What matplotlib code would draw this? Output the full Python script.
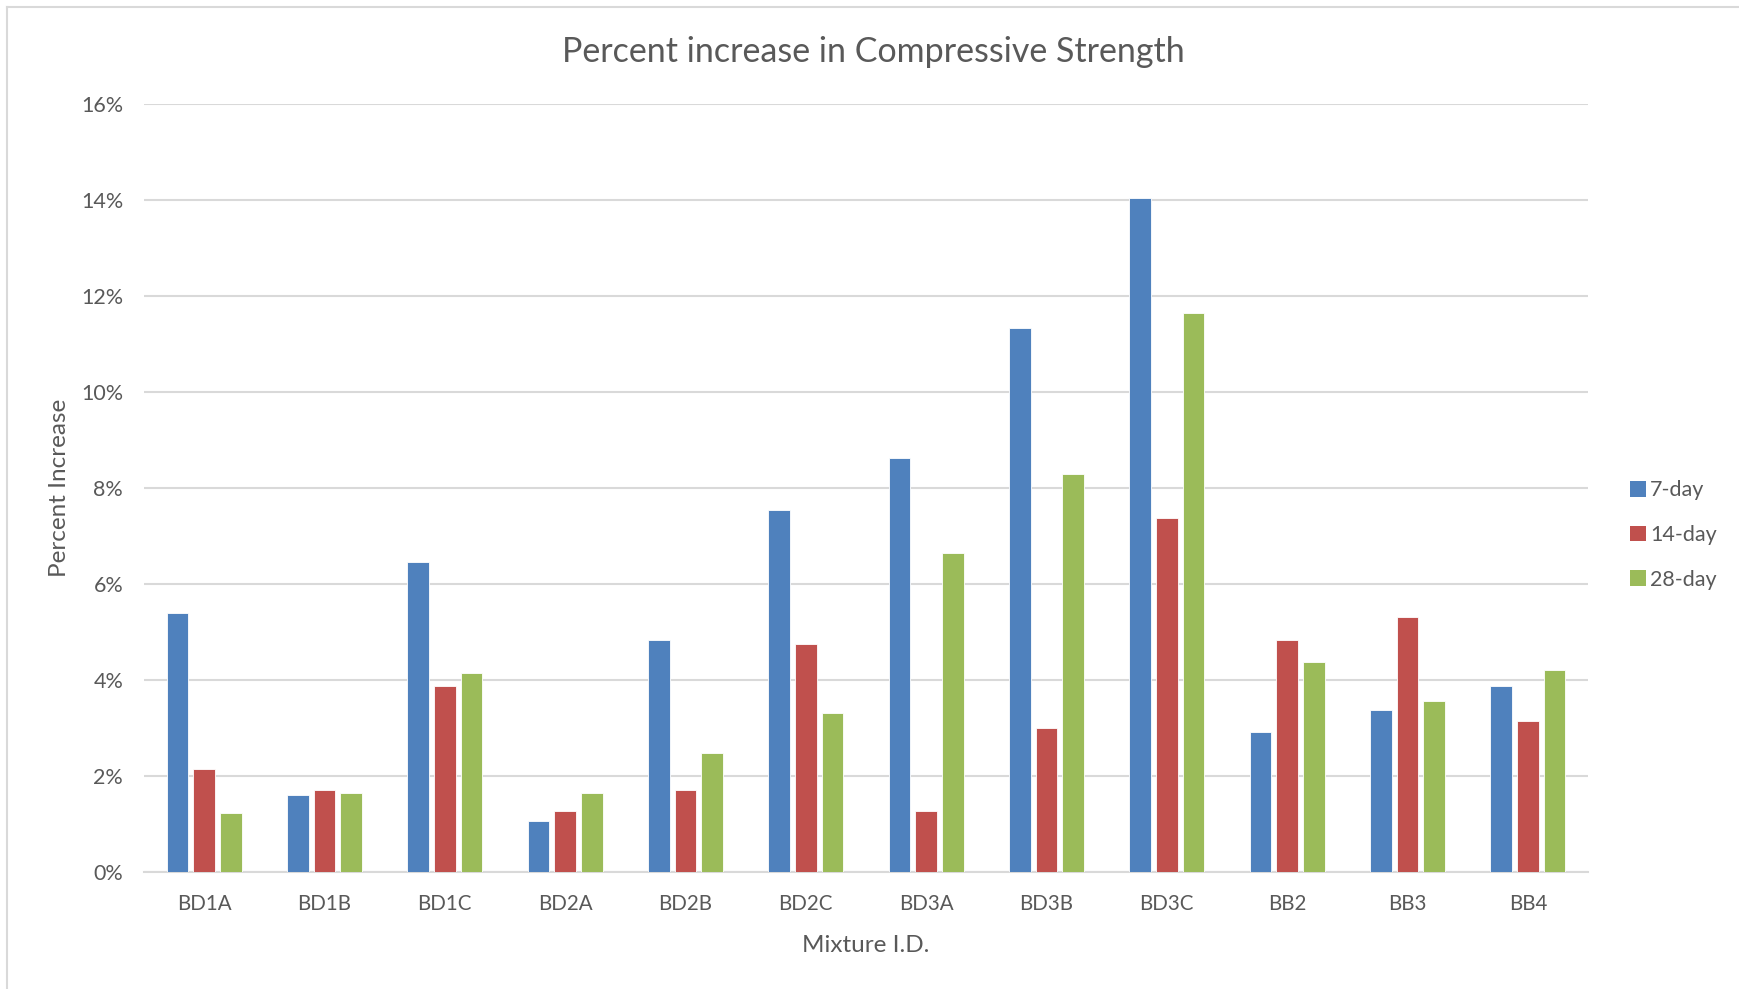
import numpy as np
import matplotlib.pyplot as plt
from matplotlib.patches import Patch
from matplotlib.lines import Line2D
from matplotlib.ticker import FuncFormatter

# percent increase by mixture and curing age
mixtures = ['BD1A', 'BD1B', 'BD1C', 'BD2A', 'BD2B', 'BD2C',
            'BD3A', 'BD3B', 'BD3C', 'BB2', 'BB3', 'BB4']
day7 = [5.39, 1.60, 6.45, 1.06, 4.83, 7.54, 8.62, 11.33, 14.05, 2.91, 3.38, 3.88]
day14 = [2.15, 1.71, 3.88, 1.27, 1.71, 4.76, 1.27, 3.01, 7.38, 4.83, 5.32, 3.14]
day28 = [1.23, 1.64, 4.14, 1.64, 2.47, 3.31, 6.64, 8.30, 11.64, 4.37, 3.56, 4.21]
series_names = ['7-day', '14-day', '28-day']
colors = ['#4F81BD', '#C0504D', '#9BBB59']

txt = '#595959'
plt.rcParams['font.family'] = ['Lato', 'DejaVu Sans']

fig = plt.figure(figsize=(17.39, 9.89), dpi=100)
ax = fig.add_axes([0.0828, 0.1183, 0.8304, 0.7765])

x = np.arange(len(mixtures))
step = 0.221
width = 0.18
for i, (vals, c) in enumerate(zip([day7, day14, day28], colors)):
    ax.bar(x + (i - 1) * step, vals, width, color=c, edgecolor='white',
           linewidth=0.6, zorder=3)

ax.set_xlim(-0.5, len(mixtures) - 0.5)
ax.set_ylim(0, 16)
ax.set_yticks(np.arange(0, 17, 2))
ax.yaxis.set_major_formatter(FuncFormatter(lambda v, _: '%d%%' % v))
ax.set_xticks(x)
ax.set_xticklabels(mixtures)
ax.grid(True, axis='y', color='#D9D9D9', linewidth=1.5, zorder=0)
for s in ['top', 'right', 'left']:
    ax.spines[s].set_visible(False)
ax.spines['bottom'].set_color('#D9D9D9')
ax.spines['bottom'].set_linewidth(1.5)
ax.tick_params(length=0, colors=txt)
ax.tick_params(axis='x', pad=16, labelsize=14.8)
ax.tick_params(axis='y', pad=15, labelsize=15.5)

ax.set_title('Percent increase in Compressive Strength', fontsize=24.5,
             color=txt, pad=30, x=0.505)
ax.set_xlabel('Mixture I.D.', fontsize=17.5, color=txt, labelpad=15)
ax.set_ylabel('Percent Increase', fontsize=17.5, color=txt, labelpad=8)

handles = [Patch(facecolor=c, edgecolor='none') for c in colors]
leg = fig.legend(handles, series_names, loc='center left',
                 bbox_to_anchor=(0.926, 0.459), frameon=False,
                 fontsize=15.5, labelcolor=txt, handlelength=0.75,
                 handleheight=0.75, handletextpad=0.2, labelspacing=1.15)

# chart border
fig.add_artist(Line2D([0.004, 0.004], [0, 0.993], color='#D9D9D9', lw=1.5,
                      transform=fig.transFigure))
fig.add_artist(Line2D([0.004, 1], [0.993, 0.993], color='#D9D9D9', lw=1.5,
                      transform=fig.transFigure))

fig.savefig('out.png', dpi=100)
